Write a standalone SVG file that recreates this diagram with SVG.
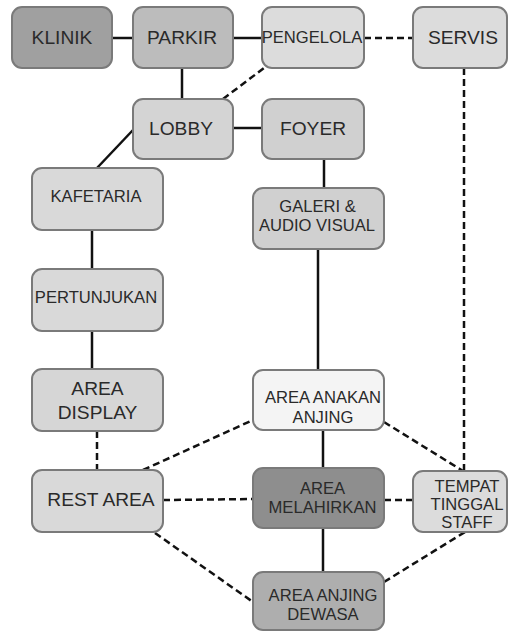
<svg xmlns="http://www.w3.org/2000/svg" width="508" height="632" viewBox="0 0 508 632">
<style>
.b{stroke:#7a7a7a;stroke-width:2}
.t{font-family:"Liberation Sans",Arial,sans-serif;fill:#2a2a2a;text-anchor:middle}
.L{font-size:19.2px}
.S{font-size:16.6px}
.s{stroke:#111;stroke-width:2.5;fill:none}
.d{stroke:#111;stroke-width:2.5;fill:none;stroke-dasharray:7,4}
</style>
<rect width="508" height="632" fill="#fff"/>
<g id="connectors">
<line class="s" x1="112" y1="38" x2="133" y2="38"/>
<line class="s" x1="233" y1="38" x2="262" y2="38"/>
<line class="d" x1="364" y1="38" x2="413" y2="38"/>
<line class="s" x1="182" y1="68" x2="182" y2="99"/>
<line class="d" x1="223" y1="99" x2="264" y2="68"/>
<line class="s" x1="233" y1="128" x2="262" y2="128"/>
<line class="s" x1="133" y1="130" x2="97" y2="168"/>
<line class="s" x1="324" y1="159" x2="324" y2="188"/>
<line class="s" x1="92" y1="230" x2="92" y2="269"/>
<line class="s" x1="92" y1="331" x2="92" y2="369"/>
<line class="s" x1="318" y1="249" x2="318" y2="370"/>
<line class="d" x1="464" y1="68" x2="464" y2="471"/>
<line class="d" x1="97" y1="431" x2="97" y2="470"/>
<line class="d" x1="143" y1="470" x2="253" y2="420"/>
<line class="d" x1="163" y1="500" x2="253" y2="499"/>
<line class="d" x1="155" y1="533" x2="253" y2="602"/>
<line class="s" x1="323" y1="430" x2="323" y2="468"/>
<line class="s" x1="323" y1="528" x2="323" y2="572"/>
<line class="d" x1="384" y1="422" x2="463" y2="471"/>
<line class="d" x1="384" y1="500" x2="413" y2="500"/>
<line class="d" x1="384" y1="582" x2="465" y2="532"/>
</g>
<g id="klinik"><rect class="b" x="12" y="7" width="100" height="61" rx="10" fill="#a0a0a0" stroke="#666"/><text class="t L" x="62" y="44">KLINIK</text></g>
<g id="parkir"><rect class="b" x="133" y="7" width="100" height="61" rx="10" fill="#bcbcbc"/><text class="t L" x="182" y="44">PARKIR</text></g>
<g id="pengelola"><rect class="b" x="262" y="7" width="102" height="61" rx="10" fill="#dcdcdc" stroke="#999"/><text class="t S" x="312" y="43">PENGELOLA</text></g>
<g id="servis"><rect class="b" x="413" y="7" width="94" height="61" rx="10" fill="#dcdcdc" stroke="#999"/><text class="t L" x="463" y="44">SERVIS</text></g>
<g id="lobby"><rect class="b" x="133" y="99" width="100" height="60" rx="10" fill="#d4d4d4" stroke="#8a8a8a"/><text class="t L" x="181" y="135">LOBBY</text></g>
<g id="foyer"><rect class="b" x="262" y="99" width="102" height="60" rx="10" fill="#d0d0d0"/><text class="t L" x="313" y="135">FOYER</text></g>
<g id="kafetaria"><rect class="b" x="32" y="168" width="131" height="62" rx="10" fill="#d9d9d9" stroke="#8a8a8a"/><text class="t S" x="96" y="202">KAFETARIA</text></g>
<g id="galeri"><rect class="b" x="253" y="188" width="131" height="61" rx="10" fill="#d0d0d0"/><text class="t S" x="317.5" y="212">GALERI &amp;</text><text class="t S" x="317" y="231">AUDIO VISUAL</text></g>
<g id="pertunjukan"><rect class="b" x="32" y="269" width="131" height="62" rx="10" fill="#d9d9d9" stroke="#8a8a8a"/><text class="t S" x="96" y="303">PERTUNJUKAN</text></g>
<g id="area-display"><rect class="b" x="32" y="369" width="131" height="62" rx="10" fill="#d6d6d6" stroke="#8a8a8a"/><text class="t L" x="97.5" y="395">AREA</text><text class="t L" x="97.5" y="419">DISPLAY</text></g>
<g id="area-anakan"><rect class="b" x="253" y="370" width="131" height="60" rx="10" fill="#f4f4f4" stroke="#c4c4c4"/><text class="t S" x="323" y="403">AREA ANAKAN</text><text class="t S" x="323" y="423">ANJING</text></g>
<g id="rest-area"><rect class="b" x="32" y="470" width="131" height="62" rx="10" fill="#d9d9d9" stroke="#8a8a8a"/><text class="t L" x="101" y="506">REST AREA</text></g>
<g id="melahirkan"><rect class="b" x="253" y="468" width="131" height="60" rx="10" fill="#8e8e8e" stroke="#555"/><text class="t S" x="322.5" y="494">AREA</text><text class="t S" x="322.5" y="513">MELAHIRKAN</text></g>
<g id="tempat"><rect class="b" x="413" y="471" width="94" height="61" rx="10" fill="#dcdcdc" stroke="#999"/><text class="t S" x="467" y="492">TEMPAT</text><text class="t S" x="467" y="510">TINGGAL</text><text class="t S" x="467" y="528">STAFF</text></g>
<g id="dewasa"><rect class="b" x="253" y="572" width="131" height="58" rx="10" fill="#aeaeae" stroke="#666"/><text class="t S" x="323" y="601">AREA ANJING</text><text class="t S" x="323" y="620">DEWASA</text></g>
</svg>
